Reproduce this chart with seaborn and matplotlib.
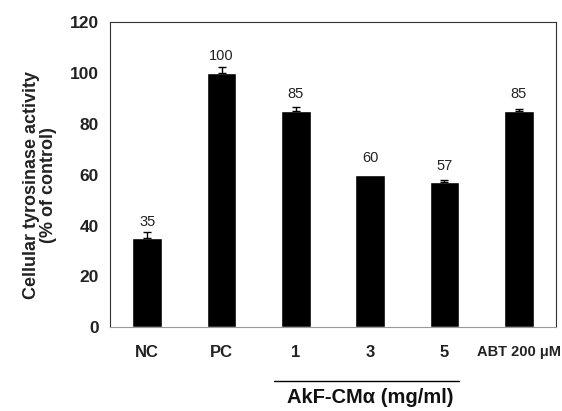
import matplotlib
matplotlib.use("Agg")
import matplotlib.pyplot as plt
import seaborn as sns
import pandas as pd
import numpy as np

categories = ["NC", "PC", "1", "3", "5", "ABT 200 \u03bcM"]
values = [35, 100, 85, 60, 57, 85]
errors = [2.5, 2.2, 1.5, 0.0, 1.0, 1.0]
value_labels = ["35", "100", "85", "60", "57", "85"]
y_ticks = [0, 20, 40, 60, 80, 100, 120]
group_label = "AkF-CM\u03b1 (mg/ml)"
y_label = "Cellular tyrosinase activity\n(% of control)"

sns.set_style("white")
plt.rcParams["font.family"] = ["Liberation Sans", "DejaVu Sans"]

df = pd.DataFrame({"cat": categories, "val": values, "err": errors})

fig = plt.figure(figsize=(5.62, 4.11), dpi=100)
ax = fig.add_axes([0.196, 0.204, 0.793, 0.742])

sns.barplot(data=df, x="cat", y="val", color="black", width=0.4,
            saturation=1, ax=ax, errorbar=None)
xs = np.arange(len(categories))
has_err = df["err"].to_numpy() > 0
ax.errorbar(xs[has_err], df["val"].to_numpy()[has_err],
            yerr=[np.zeros(has_err.sum()), df["err"].to_numpy()[has_err]],
            fmt="none", ecolor="black", elinewidth=1.0, capsize=2.7, capthick=1.0)

for x, v, lab in zip(xs, values, value_labels):
    ax.text(x, v + 3.8, lab, ha="center", va="bottom", fontsize=10.5,
            color="#222222")

ax.set_xlim(-0.5, len(categories) - 0.5)
ax.set_ylim(0, 120)
ax.set_yticks(y_ticks)
ax.set_yticklabels([str(t) for t in y_ticks], fontsize=12.5, fontweight="bold",
                   color="#222222")
ax.tick_params(axis="y", direction="out", length=5, width=0.8, color="#555555", pad=3)

ax.set_xticks(xs)
ax.set_xticklabels(categories)
for t in ax.get_xticklabels():
    t.set_fontweight("bold")
    t.set_color("#222222")
    t.set_fontsize(10.5 if t.get_text().startswith("ABT") else 12)
ax.tick_params(axis="x", which="major", length=0, pad=13)
ax.set_xticks(np.arange(-0.5, len(categories), 1.0), minor=True)
ax.tick_params(axis="x", which="minor", direction="out", length=8, width=0.8,
               color="#777777")

ax.set_xlabel("")
ax.set_ylabel(y_label, fontsize=13, fontweight="bold", va="center",
              linespacing=1.0, color="#222222")
ax.yaxis.set_label_coords(-0.157, 0.466)

for s in ["top", "right", "left"]:
    ax.spines[s].set_visible(True)
    ax.spines[s].set_color("#333333")
    ax.spines[s].set_linewidth(0.8)
ax.spines["bottom"].set_color("#999999")
ax.spines["bottom"].set_linewidth(0.8)

# group underline and label for AkF-CMα concentrations
trans = ax.get_xaxis_transform()
ax.plot([1.7, 4.2], [-0.177, -0.177], transform=trans, color="black",
        linewidth=1.0, clip_on=False)
ax.text(3.0, -0.198, group_label, transform=trans, ha="center", va="top",
        fontsize=14.5, fontweight="bold", color="#111111")

fig.savefig("out.png", dpi=100)
